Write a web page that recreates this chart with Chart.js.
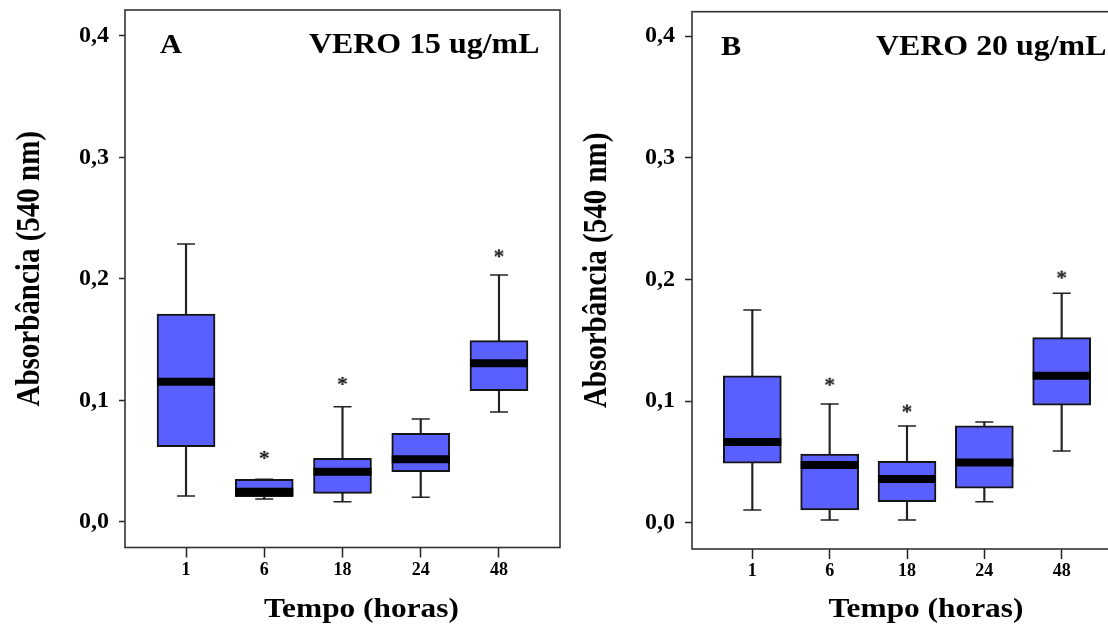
<!DOCTYPE html>
<html>
<head>
<meta charset="utf-8">
<script src="https://cdn.jsdelivr.net/npm/chart.js@4.4.1/dist/chart.umd.min.js"></script>
<style>
    html, body { margin: 0; padding: 0; background: #fff; }
    body { width: 1108px; height: 626px; position: relative; overflow: hidden; }
    #panelA { position: absolute; left: 0; top: 0; width: 575px; height: 626px; }
    #wrapB { position: absolute; left: 560px; top: 0; width: 548px; height: 626px; overflow: hidden; }
    #panelB { position: absolute; left: 0; top: 0; width: 600px; height: 626px; }
</style>
</head>
<body>
<div id="panelA"><canvas id="chartA"></canvas></div>
<div id="wrapB"><div id="panelB"><canvas id="chartB"></canvas></div></div>
<script>
// categorias (horas) e ticks do eixo y
const hours = ['1', '6', '18', '24', '48'];
const yTicks = [0, 0.1, 0.2, 0.3, 0.4];

// A - VERO 15 ug/mL
const lowA  = [0.0212, 0.0187, 0.0165, 0.0201, 0.0904];
const q1A   = [0.0618, 0.0206, 0.0234, 0.0412, 0.1079];
const medA  = [0.1153, 0.0247, 0.0412, 0.0514, 0.1305];
const q3A   = [0.1711, 0.0349, 0.0522, 0.0728, 0.1491];
const highA = [0.2287, 0.0349, 0.0947, 0.0846, 0.2032];
const starA = [null, 0.055, 0.116, null, 0.221];

// B - VERO 20 ug/mL
const lowB  = [0.0107, 0.0025, 0.0025, 0.0175, 0.0591];
const q1B   = [0.0491, 0.0107, 0.0175, 0.0285, 0.0967];
const medB  = [0.0666, 0.0477, 0.0362, 0.0496, 0.1210];
const q3B   = [0.1208, 0.0565, 0.0507, 0.0797, 0.1523];
const highB = [0.1750, 0.0978, 0.0797, 0.0830, 0.1887];
const starB = [null, 0.116, 0.094, null, 0.204];

const boxFill = '#5a5fff';
const serif = '"Liberation Serif", "Times New Roman", serif';

function pts(arr) {
    return arr.map((v, i) => ({ x: i, y: v })).filter(p => p.y !== null);
}

function starImage() {
    const c = document.createElement('canvas');
    c.width = 20; c.height = 20;
    const g = c.getContext('2d');
    g.font = 'bold 22px ' + serif;
    g.textAlign = 'center';
    const m = g.measureText('*');
    g.fillStyle = '#111';
    g.fillText('*', 10, 10 + (m.actualBoundingBoxAscent - m.actualBoundingBoxDescent) / 2);
    return c;
}
const star = starImage();

// sem padding extra dos rotulos, para a area ficar onde queremos
function noPadding(s) {
    s.paddingTop = 0; s.paddingBottom = 0; s.paddingLeft = 0; s.paddingRight = 0;
}

// moldura em volta da area do grafico
const framePlugin = {
    id: 'frame',
    afterDraw(chart) {
        const { ctx, chartArea: a } = chart;
        ctx.save();
        ctx.strokeStyle = '#333';
        ctx.lineWidth = 1.6;
        ctx.strokeRect(a.left, a.top, a.right - a.left, a.bottom - a.top);
        ctx.restore();
    }
};

function putText(ctx, text, x, y, font, sx, align) {
    ctx.save();
    ctx.translate(x, y);
    ctx.scale(sx, 1);
    ctx.font = font;
    ctx.textAlign = align;
    ctx.fillText(text, 0, 0);
    ctx.restore();
}

// textos do painel: letra, titulo e titulos dos eixos
const textPlugin = {
    id: 'panelText',
    afterDraw(chart, args, opts) {
        const { ctx, chartArea: a } = chart;
        ctx.save();
        ctx.fillStyle = '#000';
        ctx.textBaseline = 'alphabetic';
        putText(ctx, opts.letter, a.left + opts.letterDx, a.top + 43, 'bold 27px ' + serif, 1.12, 'left');
        putText(ctx, opts.title, a.left + 184, a.top + 43, 'bold 29px ' + serif, 1.1, 'left');
        putText(ctx, 'Tempo (horas)', (a.left + a.right) / 2 + 19, 617, 'bold 28px ' + serif, 1.12, 'center');

        ctx.translate(a.left - 86, (a.top + a.bottom) / 2 - 10);
        ctx.rotate(-Math.PI / 2);
        ctx.scale(1, 1.15);
        ctx.font = 'bold 29px ' + serif;
        ctx.textAlign = 'center';
        ctx.fillText('Absorbância (540 nm)', 0, 0);
        ctx.restore();
    }
};

function makePanel(id, geo, d) {
    return new Chart(document.getElementById(id), {
        type: 'bar',
        data: {
            datasets: [
                {
                    type: 'scatter', data: pts(d.med), order: 1,
                    pointStyle: 'line', pointRadius: 29, pointBorderWidth: 8, pointBorderColor: '#000'
                },
                {
                    type: 'scatter', data: pts(d.star), order: 1,
                    pointStyle: star, pointRadius: 10
                },
                {
                    type: 'bar', order: 2,
                    data: d.q1.map((v, i) => ({ x: i, y: [v, d.q3[i]] })),
                    backgroundColor: boxFill, borderColor: '#151515', borderWidth: 2,
                    borderSkipped: false, barThickness: 58, grouped: false
                },
                {
                    type: 'bar', order: 3,
                    data: d.low.map((v, i) => ({ x: i, y: [v, d.q1[i]] })),
                    backgroundColor: '#222', borderWidth: 0, barThickness: 1.5, grouped: false
                },
                {
                    type: 'bar', order: 3,
                    data: d.high.map((v, i) => ({ x: i, y: [d.q3[i], v] })),
                    backgroundColor: '#222', borderWidth: 0, barThickness: 1.5, grouped: false
                },
                {
                    type: 'scatter', order: 3,
                    data: pts(d.low).concat(pts(d.high)),
                    pointStyle: 'line', pointRadius: 9, pointBorderWidth: 1.5, pointBorderColor: '#222'
                }
            ]
        },
        options: {
            responsive: true,
            maintainAspectRatio: false,
            animation: false,
            events: [],
            layout: { autoPadding: false, padding: { top: geo.top, right: geo.right, left: 0, bottom: 0 } },
            plugins: {
                legend: { display: false },
                tooltip: { enabled: false },
                panelText: { letter: d.letter, letterDx: geo.letterDx, title: d.title }
            },
            scales: {
                x: {
                    type: 'linear',
                    offset: false,
                    min: -0.78,
                    max: 4.78,
                    afterBuildTicks: ax => { ax.ticks = hours.map((h, i) => ({ value: i })); },
                    afterFit: s => { s.height = geo.xh; noPadding(s); },
                    grid: { offset: false, drawOnChartArea: false, tickLength: 10, tickWidth: 1.5, tickColor: '#222' },
                    border: { display: false },
                    ticks: {
                        callback: v => hours[v],
                        color: '#000',
                        font: { family: serif, size: 18, weight: 'bold' },
                        padding: 2,
                        maxRotation: 0,
                        autoSkip: false
                    }
                },
                y: {
                    min: geo.yMin,
                    max: geo.yMax,
                    afterBuildTicks: ax => { ax.ticks = yTicks.map(v => ({ value: v })); },
                    afterFit: s => { s.width = geo.left; noPadding(s); },
                    grid: { drawOnChartArea: false, tickLength: geo.tick, tickWidth: 1.5, tickColor: '#222' },
                    border: { display: false },
                    ticks: {
                        callback: v => v.toFixed(1).replace('.', ','),
                        color: '#000',
                        font: { family: serif, size: 24, weight: 'bold' },
                        padding: 10
                    }
                }
            }
        },
        plugins: [framePlugin, textPlugin]
    });
}

makePanel('chartA',
    { left: 125, top: 10, right: 15, xh: 78.5, yMin: -0.0212, yMax: 0.4214, tick: 6, letterDx: 35 },
    { low: lowA, q1: q1A, med: medA, q3: q3A, high: highA, star: starA, letter: 'A', title: 'VERO 15 ug/mL' });

makePanel('chartB',
    { left: 132, top: 11.7, right: 38, xh: 77, yMin: -0.0214, yMax: 0.42, tick: 7, letterDx: 29 },
    { low: lowB, q1: q1B, med: medB, q3: q3B, high: highB, star: starB, letter: 'B', title: 'VERO 20 ug/mL' });
</script>
</body>
</html>
